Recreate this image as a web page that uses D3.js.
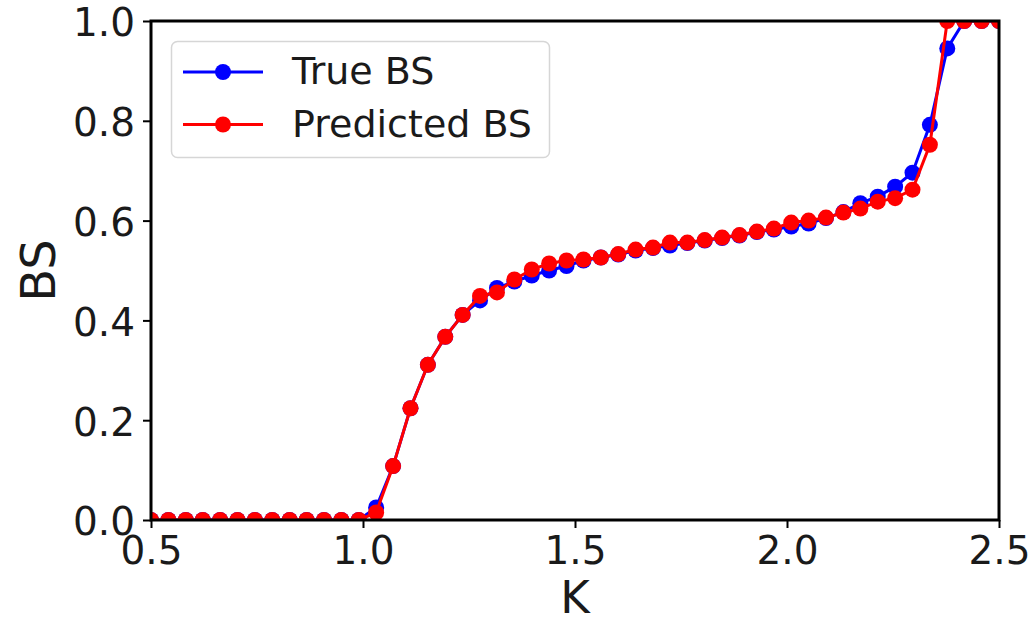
<!DOCTYPE html>
<html lang="en">
<head>
    <meta charset="UTF-8">
    <title>BS vs K</title>
    <script src="https://d3js.org/d3.v7.min.js" charset="utf-8"></script>
    <style>
        body { margin: 0; background: #fff; }
        text { font-family: "DejaVu Sans", sans-serif; fill: #1a1a1a; }
    </style>
</head>
<body>
<script>
    // data
    let kValues = [0.500, 0.541, 0.582, 0.622, 0.663, 0.704, 0.745, 0.786, 0.827, 0.867,
        0.908, 0.949, 0.990, 1.031, 1.071, 1.112, 1.153, 1.194, 1.235, 1.276,
        1.316, 1.357, 1.398, 1.439, 1.480, 1.520, 1.561, 1.602, 1.643, 1.684,
        1.724, 1.765, 1.806, 1.847, 1.888, 1.929, 1.969, 2.010, 2.051, 2.092,
        2.133, 2.173, 2.214, 2.255, 2.296, 2.337, 2.378, 2.418, 2.459, 2.500];
    let trueBS = [0, 0, 0, 0, 0, 0, 0, 0, 0, 0,
        0, 0, 0, 0.025, 0.108, 0.224, 0.311, 0.367, 0.411, 0.440,
        0.465, 0.478, 0.490, 0.500, 0.509, 0.520, 0.526, 0.532, 0.540, 0.545,
        0.550, 0.555, 0.560, 0.565, 0.570, 0.577, 0.582, 0.588, 0.594, 0.605,
        0.617, 0.635, 0.648, 0.668, 0.696, 0.792, 0.945, 1, 1, 1];
    let predBS = [0, 0, 0, 0, 0, 0, 0, 0, 0, 0,
        0, 0, 0, 0.015, 0.108, 0.224, 0.311, 0.367, 0.411, 0.449,
        0.456, 0.482, 0.502, 0.514, 0.520, 0.522, 0.526, 0.533, 0.542, 0.546,
        0.556, 0.556, 0.561, 0.566, 0.571, 0.578, 0.584, 0.596, 0.600, 0.606,
        0.616, 0.624, 0.638, 0.645, 0.662, 0.752, 1, 1, 1, 1];
    let xTicks = [0.5, 1.0, 1.5, 2.0, 2.5];
    let yTicks = [0.0, 0.2, 0.4, 0.6, 0.8, 1.0];
    let seriesNames = ['True BS', 'Predicted BS'];
    let seriesColors = ['#0000ff', '#ff0000'];

    let width = 1030, height = 623;
    let pLeft = 151, pRight = 999, pTop = 21, pBottom = 520;

    var svg = d3.select('body').append('svg').attr('width', width).attr('height', height);

    let x = d3.scaleLinear().domain([0.5, 2.5]).range([pLeft, pRight]);
    let y = d3.scaleLinear().domain([0, 1]).range([pBottom, pTop]);

    svg.append('clipPath').attr('id', 'plotClip')
        .append('rect')
        .attr('x', pLeft).attr('y', pTop)
        .attr('width', pRight - pLeft).attr('height', pBottom - pTop);

    // lines + markers, blue first then red on top
    let series = [trueBS, predBS];
    let line = d3.line()
        .x(function (d, i) { return x(kValues[i]); })
        .y(function (d) { return y(d); });

    let plot = svg.append('g').attr('clip-path', 'url(#plotClip)');
    series.forEach(function (vals, s) {
        plot.append('path')
            .datum(vals)
            .attr('d', line)
            .attr('fill', 'none')
            .attr('stroke', seriesColors[s])
            .attr('stroke-width', 3);
        plot.append('g').selectAll('circle')
            .data(vals).enter()
            .append('circle')
            .attr('cx', function (d, i) { return x(kValues[i]); })
            .attr('cy', function (d) { return y(d); })
            .attr('r', 8)
            .attr('fill', seriesColors[s]);
    });

    // axes
    let xAxis = d3.axisBottom(x).tickValues(xTicks).tickFormat(d3.format('.1f'))
        .tickSize(8).tickPadding(8);
    let yAxis = d3.axisLeft(y).tickValues(yTicks).tickFormat(d3.format('.1f'))
        .tickSize(8).tickPadding(8);

    let gx = svg.append('g').attr('transform', 'translate(0,' + pBottom + ')').call(xAxis);
    let gy = svg.append('g').attr('transform', 'translate(' + pLeft + ',0)').call(yAxis);
    [gx, gy].forEach(function (g) {
        g.select('.domain').remove();
        g.selectAll('line').attr('stroke', '#000').attr('stroke-width', 2);
        g.selectAll('text').attr('font-size', 39).attr('fill', '#1a1a1a')
            .attr('font-family', '"DejaVu Sans", sans-serif');
    });
    gy.selectAll('text').attr('dy', '0.38em');

    // frame
    svg.append('rect')
        .attr('x', pLeft).attr('y', pTop)
        .attr('width', pRight - pLeft).attr('height', pBottom - pTop)
        .attr('fill', 'none').attr('stroke', '#000').attr('stroke-width', 3);

    // axis labels
    svg.append('text')
        .attr('x', (pLeft + pRight) / 2).attr('y', 613)
        .attr('text-anchor', 'middle').attr('font-size', 45)
        .text('K');
    svg.append('text')
        .attr('transform', 'translate(55,' + (pTop + pBottom) / 2 + ') rotate(-90)')
        .attr('text-anchor', 'middle').attr('font-size', 48)
        .text('BS');

    // legend
    let legend = svg.append('g');
    legend.append('rect')
        .attr('x', 171.5).attr('y', 41.5).attr('width', 378).attr('height', 116)
        .attr('rx', 6).attr('fill', '#fff').attr('fill-opacity', 0.8)
        .attr('stroke', '#d6d6d6').attr('stroke-width', 1.5);
    seriesNames.forEach(function (name, s) {
        let ly = 72 + s * 52.5;
        legend.append('line')
            .attr('x1', 183).attr('x2', 263).attr('y1', ly).attr('y2', ly)
            .attr('stroke', seriesColors[s]).attr('stroke-width', 3);
        legend.append('circle')
            .attr('cx', 223).attr('cy', ly).attr('r', 8).attr('fill', seriesColors[s]);
        legend.append('text')
            .attr('x', 292).attr('y', ly + 12)
            .attr('font-size', 38)
            .text(name);
    });
</script>
</body>
</html>
